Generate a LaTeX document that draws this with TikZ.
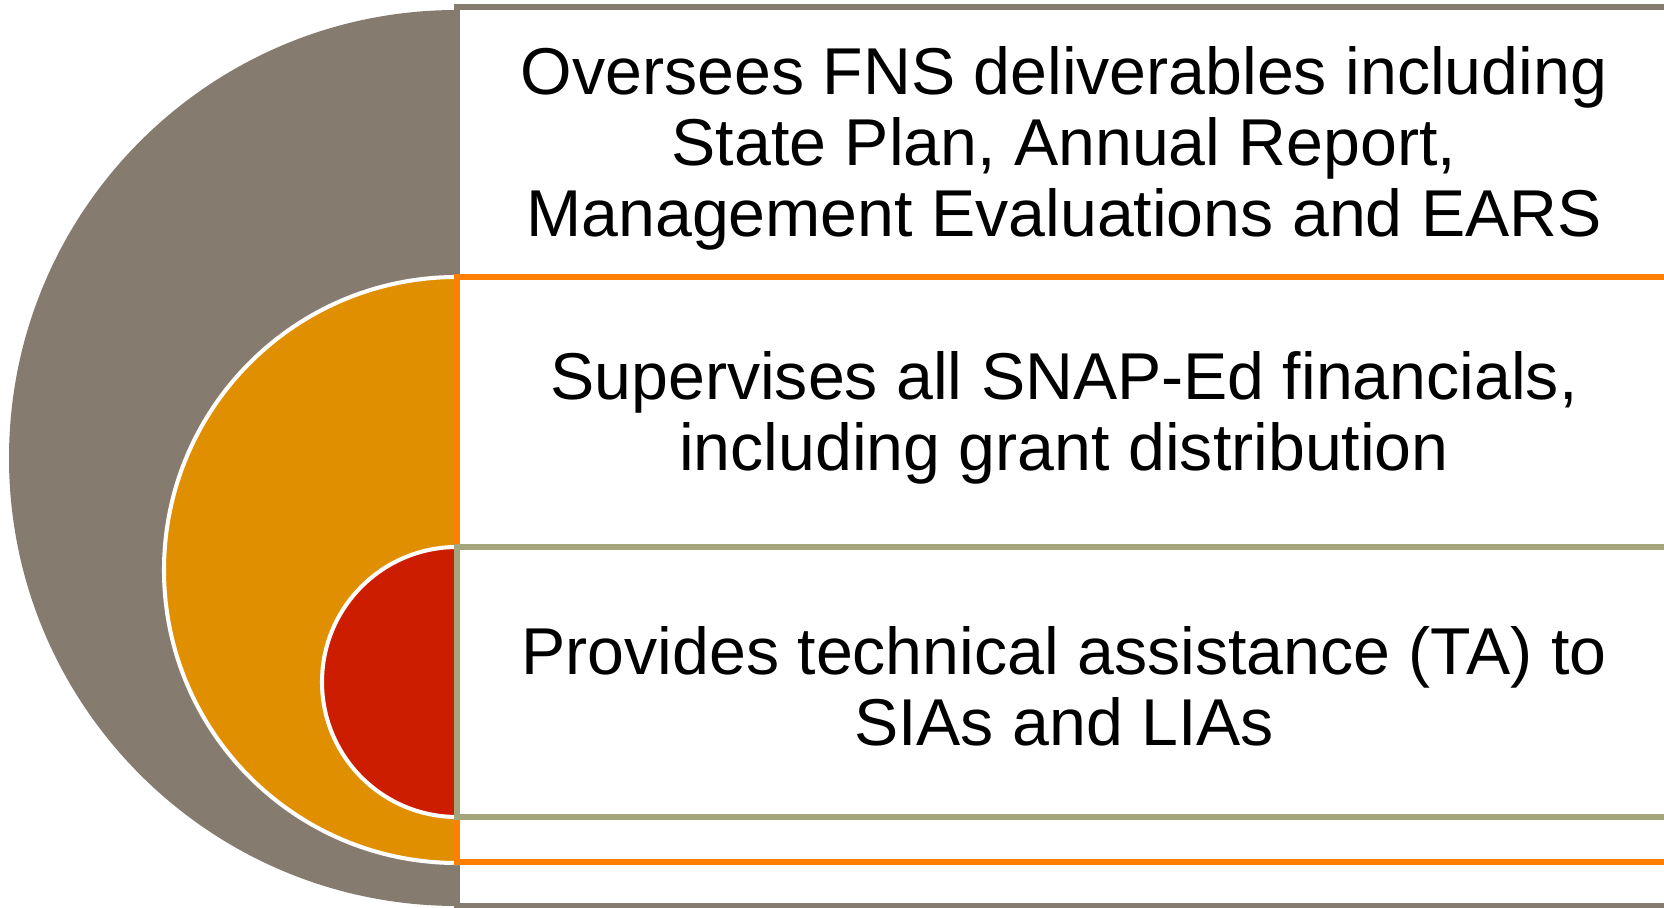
\documentclass[tikz,border=0pt]{standalone}
\usepackage{fontspec}
\setmainfont{Liberation Sans}
\usepackage{tikz}
\usetikzlibrary{positioning}

\definecolor{taupe}{HTML}{857B6F}
\definecolor{amber}{HTML}{E08F00}
\definecolor{brick}{HTML}{CC1D00}
\definecolor{tangerine}{HTML}{FF8000}
\definecolor{sage}{HTML}{A4A57A}

\begin{document}
\begin{tikzpicture}[
        disc/.style={draw=white, line width=2.3pt},
        band/.style={fill=white, line width=3pt},
        label/.style={align=center, font=\fontsize{37.7pt}{40.4pt}\selectfont}
    ]
    \useasboundingbox (0,0) rectangle (33.28,18.16);

    % Outer ring
    \fill[taupe] (9.14,17.96) arc (90:270:8.96) -- cycle;
    \draw[band, draw=taupe] (9.14,18.02) rectangle (34.2,0.04);

    % Middle ring
    \filldraw[disc, fill=amber] (9.14,12.62) arc (90:270:5.86) -- cycle;
    \draw[band, draw=tangerine] (9.14,12.62) rectangle (34.2,0.92);

    % Inner ring
    \filldraw[disc, fill=brick] (9.14,7.22) arc (90:270:2.7) -- cycle;
    \draw[band, draw=sage] (9.14,7.22) rectangle (34.2,1.82);

    % Texte
    \node (deliv) [label] at (21.28,15.2) {Oversees FNS deliverables including\\State Plan, Annual Report,\\Management Evaluations and EARS};
    \node (fin) [label] at (21.28,9.81) {Supervises all SNAP-Ed financials,\\including grant distribution};
    \node (ta) [label] at (21.28,4.44) {Provides technical assistance (TA) to\\SIAs and LIAs};

\end{tikzpicture}
\end{document}
